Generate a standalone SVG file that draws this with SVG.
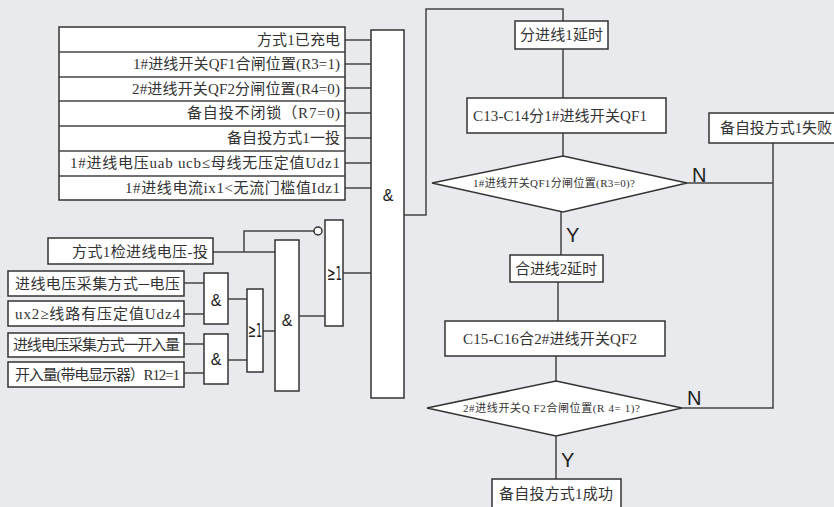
<svg xmlns="http://www.w3.org/2000/svg" width="834" height="507" viewBox="0 0 834 507">
<style>
.b{fill:#fff;stroke:#333;stroke-width:1.5}
.l{fill:none;stroke:#444;stroke-width:1.5}
.t{font-family:"Liberation Serif","Noto Sans CJK SC",serif;font-size:15px;fill:#333}
.s{font-family:"Liberation Serif","Noto Sans CJK SC",serif;font-size:11px;fill:#333}
.g{font-family:"Liberation Sans","DejaVu Sans",sans-serif;font-size:16px;fill:#222;text-anchor:middle}
.o{font-family:"DejaVu Sans","Liberation Sans",sans-serif;font-size:19px;fill:#222}
.yn{font-family:"Liberation Sans","DejaVu Sans",sans-serif;font-size:20px;fill:#222}
</style>
<rect width="834" height="507" fill="#e9eaed"/>
<g id="connectors">
<path class="l" d="M345 40H371M345 64H371M345 88H371M345 113H371M345 138H371M345 163H371M345 188H371"/>
<path class="l" d="M404 215H426V9H563V21"/>
<path class="l" d="M563 49V98M563 133V156M561 212V255M558 282V321M556 356V381M556 436V479"/>
<path class="l" d="M687 183H773M682 408H773V143"/>
<path class="l" d="M213 252H275M244 252V231H314"/>
<path class="l" d="M343 273H371M299 316H325M263 331H275M228 299H247M228 360H247"/>
<path class="l" d="M184 283H204M184 314H204M184 344H204M184 373H204"/>
<circle cx="318" cy="231" r="4" fill="#fff" stroke="#333" stroke-width="1.5"/>
</g>
<g id="inputs">
<rect class="b" x="59" y="27" width="286" height="173"/>
<path class="l" d="M59 52H345M59 77H345M59 101H345M59 126H345M59 151H345M59 176H345"/>
<g class="t">
<text x="257" y="45" textLength="83">方式1已充电</text>
<text x="133" y="69" textLength="207">1#进线开关QF1合闸位置(R3=1)</text>
<text x="132" y="94" textLength="208">2#进线开关QF2分闸位置(R4=0)</text>
<text x="187" y="118" textLength="153">备自投不闭锁（R7=0)</text>
<text x="227" y="143" textLength="113">备自投方式1一投</text>
<text x="70" y="168" textLength="270">1#进线电压uab ucb≤母线无压定值Udz1</text>
<text x="125" y="193" textLength="215">1#进线电流ix1&lt;无流门槛值Idz1</text>
</g>
</g>
<g id="and-main"><rect class="b" x="371" y="30" width="33" height="368"/><text class="g" x="388" y="201">&amp;</text></g>
<g id="in-check"><rect class="b" x="48" y="238" width="165" height="26"/><text class="t" x="72" y="257" textLength="136">方式1检进线电压-投</text></g>
<g id="in-v1"><rect class="b" x="8" y="271" width="176" height="25"/><text class="t" x="15" y="289" textLength="165">进线电压采集方式─电压</text></g>
<g id="in-v2"><rect class="b" x="8" y="301" width="176" height="25"/><text class="t" x="15" y="319" textLength="165">ux2≥线路有压定值Udz4</text></g>
<g id="in-v3"><rect class="b" x="8" y="333" width="176" height="24"/><text class="t" x="13" y="350" textLength="167">进线电压采集方式一开入量</text></g>
<g id="in-v4"><rect class="b" x="8" y="362" width="176" height="25"/><text class="t" x="15" y="380" textLength="165">开入量(带电显示器）R12=1</text></g>
<g id="and1"><rect class="b" x="204" y="273" width="24" height="51"/><text class="g" x="216" y="306">&amp;</text></g>
<g id="and2"><rect class="b" x="204" y="334" width="24" height="50"/><text class="g" x="216" y="365">&amp;</text></g>
<g id="or1"><rect class="b" x="247" y="289" width="16" height="83"/><text class="o" x="248" y="337" textLength="14" lengthAdjust="spacingAndGlyphs">≥1</text></g>
<g id="and3"><rect class="b" x="275" y="240" width="24" height="151"/><text class="g" x="287" y="326">&amp;</text></g>
<g id="or2"><rect class="b" x="325" y="220" width="18" height="106"/><text class="o" x="327" y="280" textLength="15" lengthAdjust="spacingAndGlyphs">≥1</text></g>
<g id="delay1"><rect class="b" x="515" y="21" width="93" height="28"/><text class="t" x="520" y="40" textLength="83">分进线1延时</text></g>
<g id="open1"><rect class="b" x="467" y="98" width="199" height="35"/><text class="t" x="473" y="121" textLength="174">C13-C14分1#进线开关QF1</text></g>
<g id="dec1"><polygon class="b" points="563,156 687,183 563,212 432,183"/><text class="s" x="473" y="187" textLength="162">1#进线开关QF1分闸位置(R3=0)?</text></g>
<g id="fail"><rect class="b" x="709" y="113" width="130" height="30"/><text class="t" x="720" y="133" textLength="112">备自投方式1失败</text></g>
<g id="delay2"><rect class="b" x="510" y="255" width="93" height="27"/><text class="t" x="515" y="274" textLength="82">合进线2延时</text></g>
<g id="close2"><rect class="b" x="445" y="321" width="220" height="35"/><text class="t" x="463" y="344" textLength="174">C15-C16合2#进线开关QF2</text></g>
<g id="dec2"><polygon class="b" points="556,381 682,408 556,436 427,408"/><text class="s" x="463" y="412" textLength="177">2#进线开关Q F2合闸位置(R 4= 1)?</text></g>
<g id="success"><rect class="b" x="492" y="479" width="129" height="30"/><text class="t" x="499" y="499" textLength="114">备自投方式1成功</text></g>
<g id="labels" class="yn">
<text x="692" y="182">N</text>
<text x="566" y="242">Y</text>
<text x="687" y="405">N</text>
<text x="561" y="467">Y</text>
</g>
</svg>
